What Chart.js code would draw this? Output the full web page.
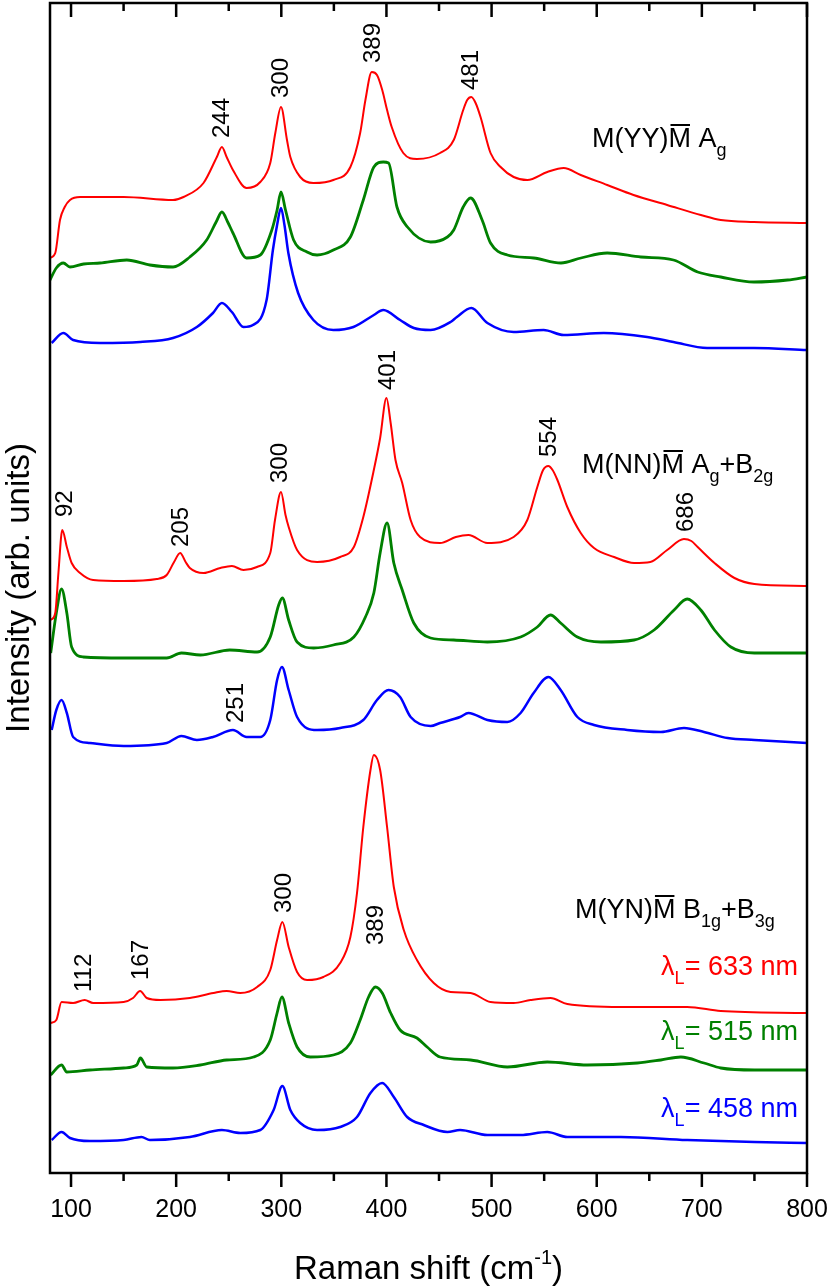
<!DOCTYPE html>
<html>
<head>
<meta charset="utf-8">
<script src="https://cdn.jsdelivr.net/npm/chart.js@4.4.1/dist/chart.umd.min.js"></script>
<style>
html,body{margin:0;padding:0;background:#fff;}
#wrap{width:830px;height:1286px;position:relative;}
</style>
</head>
<body>
<div id="wrap"><canvas id="c"></canvas></div>
<script>
const FONT = '"Liberation Sans", Arial, Helvetica, sans-serif';

// x axis ticks (Raman shift, cm-1)
const xMajorTicks = [100, 200, 300, 400, 500, 600, 700, 800];
const xMinorTicks = [150, 250, 350, 450, 550, 650, 750];

// Spectra: [Raman shift, intensity (arb. units, stacked with offsets)]
// M(YY)M  Ag
const yy633 = [[80,915],[85,920],[89.5,953],[94,966],[99,973],[108.6,976],[150,976],[197,973],[207,976],[226,990],[238.7,1016],[243.5,1026],[248,1016],[254,1003],[267,985],[280,991],[289.5,1010],[294.3,1040],[299.7,1066],[305.4,1033],[308.6,1016],[318,996],[330.5,990],[349.5,993],[365.7,1006],[375,1040],[380,1073],[386,1101],[391,1098],[396,1083],[400.6,1063],[405,1046],[416,1020],[429,1014],[451,1020],[464,1033],[473,1063],[476.8,1073],[480.7,1076],[484.8,1070],[489.5,1056],[499,1020],[508.6,1006],[521,996],[534,993],[553,1001],[568.6,1005],[584.8,998],[610,988],[635,978],[667,968],[699,958],[718,953],[749.5,951],[800,950]];
const yy515 = [[80,893],[86,905],[92.7,910],[99,906],[112,909],[127.6,910],[153,913],[175,908],[197,906],[213,916],[229,933],[238,951],[243.5,961],[249,951],[254,940],[267,915],[280,918],[291,943],[296,963],[299.7,981],[304,963],[311.7,933],[324.5,921],[334,918],[349.5,923],[365.7,936],[378,973],[388,1006],[397,1011],[402,1010],[410,966],[420,946],[442,931],[458,936],[464,943],[473,966],[480,975],[491,953],[499,930],[515,918],[540,915],[566,910],[585,915],[610,920],[642,916],[673,913],[696,901],[718,896],[749.5,891],[781.6,893],[800,896]];
const yy458 = [[81.6,830],[92.7,840],[102,833],[127.6,830],[165.7,831],[197,835],[219.7,846],[235,860],[243.5,870],[253,861],[264,846],[273,848],[286,873],[292,923],[296,948],[299.7,965],[303,948],[306.7,920],[316,880],[330.5,853],[349.5,843],[368.6,846],[388,858],[397,863],[413,853],[426,845],[442,843],[461,851],[467,856],[480.7,865],[496,850],[521,841],[549.5,843],[568.6,838],[606.7,840],[648,836],[673,831],[705,825],[749.5,825],[800,823]];

// M(NN)M  Ag+B2g
const nn633 = [[80.7,553],[85,560],[88,600],[91.7,643],[96,626],[100.6,610],[108.6,600],[121,593],[150,592],[181.6,594],[191,598],[198,611],[203.8,620],[209,611],[213,605],[226,600],[242,605],[253,607],[264,603],[276.8,606],[289.5,620],[294,653],[299.7,681],[304,658],[307,646],[315,623],[334,611],[356,616],[369,626],[378,656],[388,703],[394,735],[400,775],[404,750],[408.6,713],[415,690],[423,653],[432,636],[451,630],[466,636],[478,638],[496,630],[521,636],[534,653],[543.5,686],[549,703],[554,707],[558,703],[562.6,693],[572,666],[584.8,640],[597.4,625],[616.5,616],[635.5,610],[651,611],[667,623],[683,634],[690,632],[696,626],[712,610],[731,595],[750,589],[800,587]];
const nn515 = [[80.7,520],[86,560],[91,584],[96,560],[100.6,526],[111.7,516],[150,515],[191,515],[205,520],[223,518],[251,523],[277,521],[289.5,536],[297.5,568],[301,575],[307,553],[315,531],[330.8,525],[349.5,528],[369,536],[380,556],[388,580],[394,620],[400.6,650],[407,610],[415,583],[426,550],[442,535],[464,533],[496,531],[527.6,536],[543.5,546],[556,558],[565.7,550],[581.6,536],[604,531],[635.5,533],[654.6,543],[673.6,563],[686,574],[699,563],[712,543],[727.6,526],[750,520],[800,520]];
const nn458 = [[81.6,443],[86,463],[91,473],[96,460],[102,436],[118,430],[150,427],[191,430],[205,437],[219.7,433],[235,436],[254,443],[267,436],[280,436],[289.5,453],[296,493],[300.6,506],[307,483],[315,456],[334,443],[356,445],[378,453],[391,473],[402,483],[413,476],[423,456],[442,447],[451,450],[470,456],[478,460],[496,453],[515,451],[527.6,460],[540,480],[554,496],[565.7,483],[581.6,456],[597.4,448],[629,443],[661,441],[683,445],[702,441],[724.5,435],[750,433],[800,430]];

// M(YN)M  B1g+B3g
const yn633 = [[80.7,150],[86,153],[91,171],[102,170],[113,173],[121,170],[150,171],[159,175],[165.7,182],[172,175],[185,173],[213,175],[235.5,180],[248,182],[261,180],[277,186],[289.5,203],[296,233],[301,251],[307,226],[315,201],[324.5,193],[340,196],[356,210],[365.7,236],[372,280],[378,346],[384.8,403],[388,418],[394,403],[400.6,346],[407,286],[416.5,243],[429,213],[445,190],[461,181],[480,180],[499,171],[521,170],[537,173],[556,175],[572,169],[623,166],[686,166],[718,162],[800,160]];
const yn515 = [[80.7,98],[91,108],[96,101],[118,103],[150,105],[162.5,108],[166,115],[172,106],[197,105],[223,108],[248,113],[273.6,116],[289.5,133],[296,160],[300.6,176],[307,150],[315,126],[327.6,116],[349.5,118],[365.7,130],[375,153],[383,176],[389.5,186],[396,180],[404,160],[413,143],[429,135],[438.7,126],[451,116],[480,113],[515,106],[553,111],[591,108],[638.7,110],[661,113],[680,116],[702,110],[718,105],[750,103],[800,103]];
const yn458 = [[81.6,33],[91,41],[99,35],[118,32],[150,33],[167,36],[175,33],[213,36],[243.5,43],[261,40],[280,43],[292.7,63],[301,87],[308.6,63],[318,50],[334,43],[356,46],[372,56],[384.8,80],[395.9,90],[407,76],[419.7,56],[435.5,48],[458,41],[470,43],[496,38],[527.6,38],[553,41],[572,36],[623,36],[686,33],[750,31],[800,30]];

// Peak position labels
const peakLabels = [
  {t:'244', x:244.3, y:1035}, {t:'300', x:300, y:1075}, {t:'389', x:387.6, y:1110}, {t:'481', x:481, y:1083},
  {t:'92', x:94.3, y:656}, {t:'205', x:204.8, y:626}, {t:'300', x:299.5, y:690}, {t:'401', x:401.7, y:783},
  {t:'554', x:554.6, y:716}, {t:'686', x:685, y:641}, {t:'251', x:257, y:450},
  {t:'112', x:112.4, y:181}, {t:'167', x:166.6, y:193}, {t:'300', x:303, y:260}, {t:'389', x:390.5, y:228}
];

// Configuration labels (segments: sub = subscript, over = overline)
const groupLabels = [
  {x:595.5, y:1026, segs:[{t:'M(YY)'},{t:'M',over:true},{t:' A'},{t:'g',sub:true}]},
  {x:586, y:700, segs:[{t:'M(NN)'},{t:'M',over:true},{t:' A'},{t:'g',sub:true},{t:'+B'},{t:'2g',sub:true}]},
  {x:579.3, y:255, segs:[{t:'M(YN)'},{t:'M',over:true},{t:' B'},{t:'1g',sub:true},{t:'+B'},{t:'3g',sub:true}]}
];
const laserLabels = [
  {x:791.4, y:198, color:'#ff0000', segs:[{t:'λ'},{t:'L',sub:true},{t:'= 633 nm'}]},
  {x:791.4, y:133, color:'#008000', segs:[{t:'λ'},{t:'L',sub:true},{t:'= 515 nm'}]},
  {x:791.4, y:56, color:'#0000ff', segs:[{t:'λ'},{t:'L',sub:true},{t:'= 458 nm'}]}
];

const RED = '#ff0000', GREEN = '#008000', BLUE = '#0000ff';
const series = [
  {d:yy633, c:RED, w:2}, {d:yy515, c:GREEN, w:2.8}, {d:yy458, c:BLUE, w:2.5},
  {d:nn633, c:RED, w:2}, {d:nn515, c:GREEN, w:2.8}, {d:nn458, c:BLUE, w:2.5},
  {d:yn633, c:RED, w:2}, {d:yn515, c:GREEN, w:2.8}, {d:yn458, c:BLUE, w:2.5}
];

const LBL = 27, SUB = 18, SUBDY = 9;
function segFont(s){ return (s.sub ? SUB : LBL) + 'px ' + FONT; }
function richWidth(ctx, segs){
  let w = 0;
  segs.forEach(s => { ctx.font = segFont(s); w += ctx.measureText(s.t).width; });
  return w;
}
function drawRich(ctx, segs, x, y, color, align){
  ctx.fillStyle = color; ctx.strokeStyle = color;
  ctx.textAlign = 'left'; ctx.textBaseline = 'alphabetic';
  let cx = align === 'right' ? x - richWidth(ctx, segs) : x;
  segs.forEach(s => {
    ctx.font = segFont(s);
    const w = ctx.measureText(s.t).width;
    ctx.fillText(s.t, cx, s.sub ? y + SUBDY : y);
    if (s.over){
      ctx.lineWidth = 2;
      ctx.beginPath();
      ctx.moveTo(cx + 2, y - 22); ctx.lineTo(cx + w - 1, y - 22);
      ctx.stroke();
    }
    cx += w;
  });
}

const deco = {
  id: 'deco',
  afterDraw(chart){
    const {ctx, chartArea: a, scales: {x, y}} = chart;
    ctx.save();
    // frame
    ctx.strokeStyle = '#000'; ctx.lineWidth = 2.5;
    ctx.strokeRect(a.left, a.top, a.right - a.left, a.bottom - a.top);
    // tick marks: outward at bottom, inward at top
    const tick = (v, len) => {
      const px = x.getPixelForValue(v);
      ctx.beginPath();
      ctx.moveTo(px, a.bottom); ctx.lineTo(px, a.bottom + len);
      ctx.moveTo(px, a.top); ctx.lineTo(px, a.top + len);
      ctx.stroke();
    };
    xMajorTicks.forEach(v => tick(v, 14));
    xMinorTicks.forEach(v => tick(v, 8));
    // peak labels (rotated)
    ctx.fillStyle = '#000';
    ctx.font = '24px ' + FONT;
    ctx.textAlign = 'left'; ctx.textBaseline = 'middle';
    peakLabels.forEach(p => {
      ctx.save();
      ctx.translate(x.getPixelForValue(p.x), y.getPixelForValue(p.y));
      ctx.rotate(-Math.PI / 2);
      ctx.fillText(p.t, 0, 0);
      ctx.restore();
    });
    // configuration labels
    groupLabels.forEach(g => drawRich(ctx, g.segs, x.getPixelForValue(g.x), y.getPixelForValue(g.y), '#000', 'left'));
    laserLabels.forEach(g => drawRich(ctx, g.segs, x.getPixelForValue(g.x), y.getPixelForValue(g.y), g.color, 'right'));
    // x axis title with superscript
    const main1 = 'Raman shift (cm', sup = '-1', main2 = ')';
    ctx.fillStyle = '#000'; ctx.textBaseline = 'alphabetic'; ctx.textAlign = 'left';
    ctx.font = '33px ' + FONT; const w1 = ctx.measureText(main1).width, w3 = ctx.measureText(main2).width;
    ctx.font = '20px ' + FONT; const w2 = ctx.measureText(sup).width;
    const total = w1 + w2 + w3;
    let sx = (a.left + a.right) / 2 - total / 2;
    const base = 1279;
    ctx.font = '33px ' + FONT; ctx.fillText(main1, sx, base);
    ctx.font = '20px ' + FONT; ctx.fillText(sup, sx + w1, base - 15);
    ctx.font = '33px ' + FONT; ctx.fillText(main2, sx + w1 + w2, base);
    ctx.restore();
  }
};

new Chart(document.getElementById('c'), {
  type: 'line',
  data: {
    datasets: series.map(s => ({
      data: s.d.map(p => ({x: p[0], y: p[1]})),
      borderColor: s.c,
      borderWidth: s.w,
      pointRadius: 0,
      fill: false,
      cubicInterpolationMode: 'monotone'
    }))
  },
  options: {
    responsive: true,
    maintainAspectRatio: false,
    animation: false,
    layout: {padding: {top: 3, right: 23, left: 0, bottom: 0}},
    plugins: {legend: {display: false}, tooltip: {enabled: false}},
    scales: {
      x: {
        type: 'linear', min: 80, max: 800,
        afterBuildTicks(s){ s.ticks = xMajorTicks.map(v => ({value: v})); },
        afterFit(s){ s.height = 113; s.paddingLeft = 0; s.paddingRight = 0; },
        ticks: {font: {size: 25, family: FONT}, color: '#000', padding: 22, maxRotation: 0, autoSkip: false},
        grid: {display: false, drawTicks: false},
        border: {display: false}
      },
      y: {
        min: 0, max: 1170,
        afterFit(s){ s.width = 50; },
        ticks: {display: false},
        grid: {display: false, drawTicks: false},
        border: {display: false},
        title: {display: true, text: 'Intensity (arb. units)', color: '#000', font: {size: 33, family: FONT}, padding: {top: 0, bottom: 0}}
      }
    }
  },
  plugins: [deco]
});
</script>
</body>
</html>
